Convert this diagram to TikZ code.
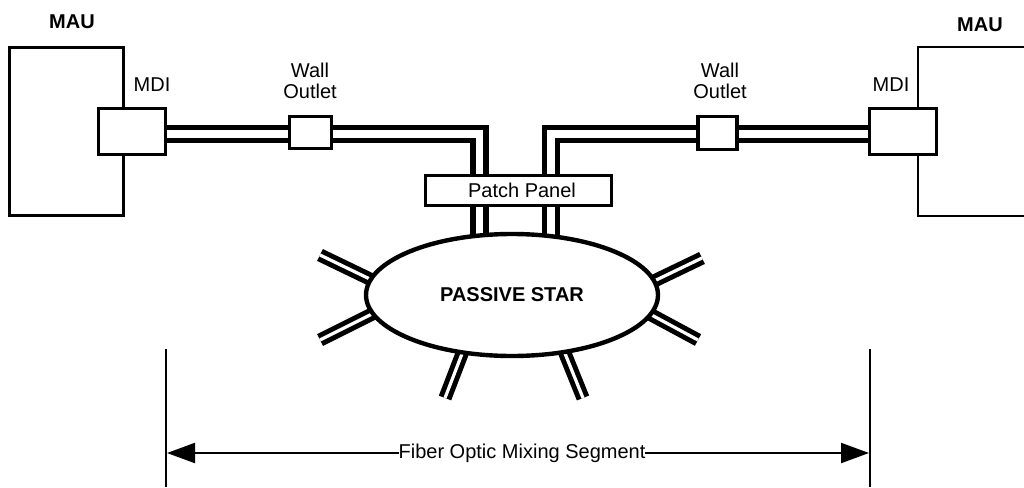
\documentclass[tikz,border=0pt]{standalone}
\usepackage{fontspec}
\setmainfont{Liberation Sans}
\usetikzlibrary{arrows.meta,shapes.geometric}
\begin{document}
\begin{tikzpicture}[x=1pt,y=-1pt,
  txt/.style={font=\fontsize{20}{21}\selectfont},
  btxt/.style={font=\fontsize{20}{21}\selectfont\bfseries},
  box/.style={draw,fill=white,line width=3.2pt,inner sep=0pt,rectangle,txt},
  maubox/.style={draw,line width=2.8pt,inner sep=0pt,rectangle},
  cable/.style={line width=5.4pt,double=white,double distance=7.6pt},
  stub/.style={line width=5pt,double=white,double distance=3.2pt},
  lbl/.style={inner sep=0pt,align=center,txt},
  blbl/.style={inner sep=0pt,align=center,btxt},
  dim/.style={line width=2.2pt}]
\useasboundingbox (0,0) rectangle (1024,487);

% MAU boxes
\node[maubox,minimum width=114.5pt,minimum height=168.5pt] (mauL) at (66.5,131.5) {};
\coordinate (mauRa) at (1024,47);
\coordinate (mauRb) at (918,47);
\coordinate (mauRc) at (918,216);
\coordinate (mauRd) at (1024,216);
\draw[line width=2.8pt] (mauRa) -- (mauRb) -- (mauRc) -- (mauRd);
\node[blbl] (mauLt) at (72,22) {MAU};
\node[blbl] (mauRt) at (980,25) {MAU};

% MDI boxes
\node[box,minimum width=67pt,minimum height=46pt] (mdiL) at (132,131.5) {};
\node[box,minimum width=67pt,minimum height=46pt] (mdiR) at (903,131.5) {};
\node[lbl] (mdiLt) at (152,85) {MDI};
\node[lbl] (mdiRt) at (891,85) {MDI};

% Wall outlets
\node[box,minimum width=42pt,minimum height=32pt] (woL) at (310.5,132.5) {};
\node[box,minimum width=39pt,minimum height=33pt] (woR) at (717.5,133) {};
\node[lbl] (woLt) at (310,81) {Wall\\Outlet};
\node[lbl] (woRt) at (720,81) {Wall\\Outlet};

% cables
\coordinate (cL) at (479.5,134);
\coordinate (cLe) at (479.5,245);
\coordinate (cR) at (551,134);
\coordinate (cRe) at (551,245);
\draw[cable] ([yshift=-2.5pt]mdiL.east) -- ([yshift=-1.5pt]woL.west);
\draw[cable] ([yshift=-1.5pt]woL.east) -- (cL) -- (cLe);
\draw[cable] ([yshift=-2.5pt]mdiR.west) -- ([yshift=-1pt]woR.east);
\draw[cable] ([yshift=-1pt]woR.west) -- (cR) -- (cRe);

% patch panel
\node[box,minimum width=186pt,minimum height=30pt] (patch) at (518.5,190.5) {\hspace*{7pt}Patch Panel};

% stubs
\coordinate (s1a) at (376,282); \coordinate (s1b) at (320,255);
\coordinate (s2a) at (376,312); \coordinate (s2b) at (320,340);
\coordinate (s3a) at (465,346); \coordinate (s3b) at (445,398);
\coordinate (s4a) at (562,346); \coordinate (s4b) at (583,398);
\coordinate (s5a) at (650,283); \coordinate (s5b) at (702,258);
\coordinate (s6a) at (646,312); \coordinate (s6b) at (698,340);
\foreach \s in {1,...,6} {\draw[stub] (s\s a) -- (s\s b);}

% passive star
\node[ellipse,draw,fill=white,line width=4.4pt,inner sep=0pt,
      minimum width=292pt,minimum height=122pt,btxt] (star) at (512,295) {PASSIVE STAR};

% dimension
\coordinate (dL1) at (166,349); \coordinate (dL2) at (166,487);
\coordinate (dR1) at (870,349); \coordinate (dR2) at (870,487);
\draw[dim] (dL1) -- (dL2);
\draw[dim] (dR1) -- (dR2);
\coordinate (aL) at (167,453); \coordinate (aR) at (869,453);
\draw[dim,{Triangle[length=28pt,width=20pt]}-{Triangle[length=28pt,width=20pt]}] (aL) -- (aR);
\node[fill=white,inner xsep=0pt,inner ysep=1pt,txt] (seg) at (522,453) {Fiber Optic Mixing Segment};
\end{tikzpicture}
\end{document}
